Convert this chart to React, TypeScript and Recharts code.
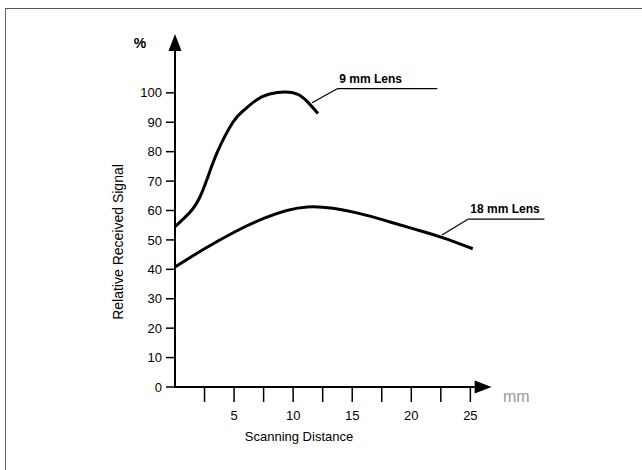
import React from 'react';
import { LineChart, Line, XAxis, YAxis, ReferenceLine, Label } from 'recharts';

// 9 mm lens curve
const lens9Distance = [0, 0.8, 1.5, 2.1, 2.7, 3.6, 4.9, 5.8, 6.9, 8, 9.3, 10.4, 11.2, 12.1];
const lens9Signal = [54.5, 57.5, 60.5, 64.5, 70.5, 80, 90, 94, 97.6, 99.6, 100.3, 99.5, 97, 93];

// 18 mm lens curve
const lens18Distance = [0, 2.5, 5, 7.5, 11.2, 15.4, 18.2, 20.5, 22.7, 25.2];
const lens18Signal = [40.8, 47, 52.6, 57.3, 61.2, 59.2, 56.1, 53.4, 50.7, 47];

const yTicks = [0, 10, 20, 30, 40, 50, 60, 70, 80, 90, 100];
const xTicks = [2.5, 5, 7.5, 10, 12.5, 15, 17.5, 20, 22.5, 25];
const xLabelled = [5, 10, 15, 20, 25];

const seriesNames = ['9 mm Lens', '18 mm Lens'];

const lens9Data = lens9Distance.map((d, i) => ({ d, s: lens9Signal[i] }));
const lens18Data = lens18Distance.map((d, i) => ({ d, s: lens18Signal[i] }));

const FONT = '"Liberation Sans", Arial, Helvetica, sans-serif';

const ArrowLine = (props: any) => {
  const { x1, y1, x2, y2 } = props;
  const dx = x2 - x1;
  const dy = y2 - y1;
  const len = Math.hypot(dx, dy) || 1;
  const ux = dx / len;
  const uy = dy / len;
  const L = 17;
  const W = 6.5;
  const bx = x2 - ux * L;
  const by = y2 - uy * L;
  const px = -uy;
  const py = ux;
  return (
    <g>
      <line x1={x1} y1={y1} x2={bx} y2={by} stroke="#000" strokeWidth={2} />
      <polygon
        points={`${x2},${y2} ${bx + px * W},${by + py * W} ${bx - px * W},${by - py * W}`}
        fill="#000"
      />
    </g>
  );
};

const makeLeader = (text?: string) => (props: any) => {
  const { x1, y1, x2, y2 } = props;
  return (
    <g>
      <line x1={x1} y1={y1} x2={x2} y2={y2} stroke="#000" strokeWidth={1.2} />
      {text ? (
        <text x={x1 + 2} y={y1 - 6} fontFamily={FONT} fontWeight="bold" fontSize={12} fill="#000">
          {text}
        </text>
      ) : null}
    </g>
  );
};

const YTitle = (props: any) => {
  const vb = props.viewBox || {};
  const axisX = vb.x + vb.width;
  const top = vb.y;
  return (
    <g>
      <text x={axisX - 35} y={top + 14} textAnchor="middle" fontFamily={FONT} fontWeight="bold" fontSize={14} fill="#000">
        %
      </text>
      <text
        x={axisX - 57}
        y={top + 208}
        transform={`rotate(-90 ${axisX - 57} ${top + 208})`}
        textAnchor="middle"
        dominantBaseline="central"
        fontFamily={FONT}
        fontSize={14}
        fill="#000"
      >
        Relative Received Signal
      </text>
    </g>
  );
};

const XTitle = (props: any) => {
  const vb = props.viewBox || {};
  const left = vb.x;
  const axisY = vb.y;
  return (
    <g>
      <text x={left + 124} y={axisY + 54} textAnchor="middle" fontFamily={FONT} fontSize={13} fill="#000">
        Scanning Distance
      </text>
      <text x={left + 328} y={axisY + 15} fontFamily={FONT} fontSize={16} fill="#9a9a9a" fontWeight={300}>
        mm
      </text>
    </g>
  );
};

export default function App() {
  return (
    <div style={{ position: 'absolute', left: 0, top: 0, width: 642, height: 470, background: '#fff' }}>
      <div
        style={{
          position: 'absolute',
          left: 5,
          top: 8,
          width: 637,
          height: 462,
          borderLeft: '1px solid #666',
          borderTop: '1px solid #555',
          boxSizing: 'border-box',
        }}
      />
      <div style={{ position: 'absolute', left: 0, top: 0 }}>
        <LineChart width={642} height={470} margin={{ top: 34, right: 148, bottom: 53, left: 115 }}>
          <XAxis
            type="number"
            dataKey="d"
            domain={[0, 27]}
            ticks={xTicks}
            allowDataOverflow
            axisLine={false}
            tickLine={{ stroke: '#000', strokeWidth: 1.5 }}
            tickSize={15}
            tickMargin={9}
            tickFormatter={(v: number) => (xLabelled.includes(v) ? String(v) : '')}
            tick={{ fill: '#000', fontSize: 13, fontFamily: FONT }}
            height={30}
          >
            <Label content={XTitle} />
          </XAxis>
          <YAxis
            type="number"
            domain={[0, 120]}
            ticks={yTicks}
            allowDataOverflow
            axisLine={false}
            tickLine={{ stroke: '#000', strokeWidth: 1.5 }}
            tickSize={9}
            tickMargin={4}
            tick={{ fill: '#000', fontSize: 13, fontFamily: FONT }}
            width={60}
          >
            <Label content={YTitle} />
          </YAxis>

          <ReferenceLine
            segment={[{ x: 0, y: 0 }, { x: 26.8, y: 0 }]}
            ifOverflow="visible"
            shape={ArrowLine}
          />
          <ReferenceLine
            segment={[{ x: 0, y: -0.3 }, { x: 0, y: 120 }]}
            ifOverflow="visible"
            shape={ArrowLine}
          />

          <Line
            data={lens9Data}
            dataKey="s"
            name={seriesNames[0]}
            type="natural"
            stroke="#000"
            strokeWidth={3}
            dot={false}
            isAnimationActive={false}
          />
          <Line
            data={lens18Data}
            dataKey="s"
            name={seriesNames[1]}
            type="natural"
            stroke="#000"
            strokeWidth={3}
            dot={false}
            isAnimationActive={false}
          />

          <ReferenceLine
            segment={[{ x: 11.6, y: 96.6 }, { x: 13.73, y: 101.4 }]}
            ifOverflow="visible"
            shape={makeLeader()}
          />
          <ReferenceLine
            segment={[{ x: 13.73, y: 101.4 }, { x: 22.2, y: 101.4 }]}
            ifOverflow="visible"
            shape={makeLeader(seriesNames[0])}
          />
          <ReferenceLine
            segment={[{ x: 22.6, y: 51.7 }, { x: 24.83, y: 57.1 }]}
            ifOverflow="visible"
            shape={makeLeader()}
          />
          <ReferenceLine
            segment={[{ x: 24.83, y: 57.1 }, { x: 31.27, y: 57.1 }]}
            ifOverflow="visible"
            shape={makeLeader(seriesNames[1])}
          />
        </LineChart>
      </div>
    </div>
  );
}
